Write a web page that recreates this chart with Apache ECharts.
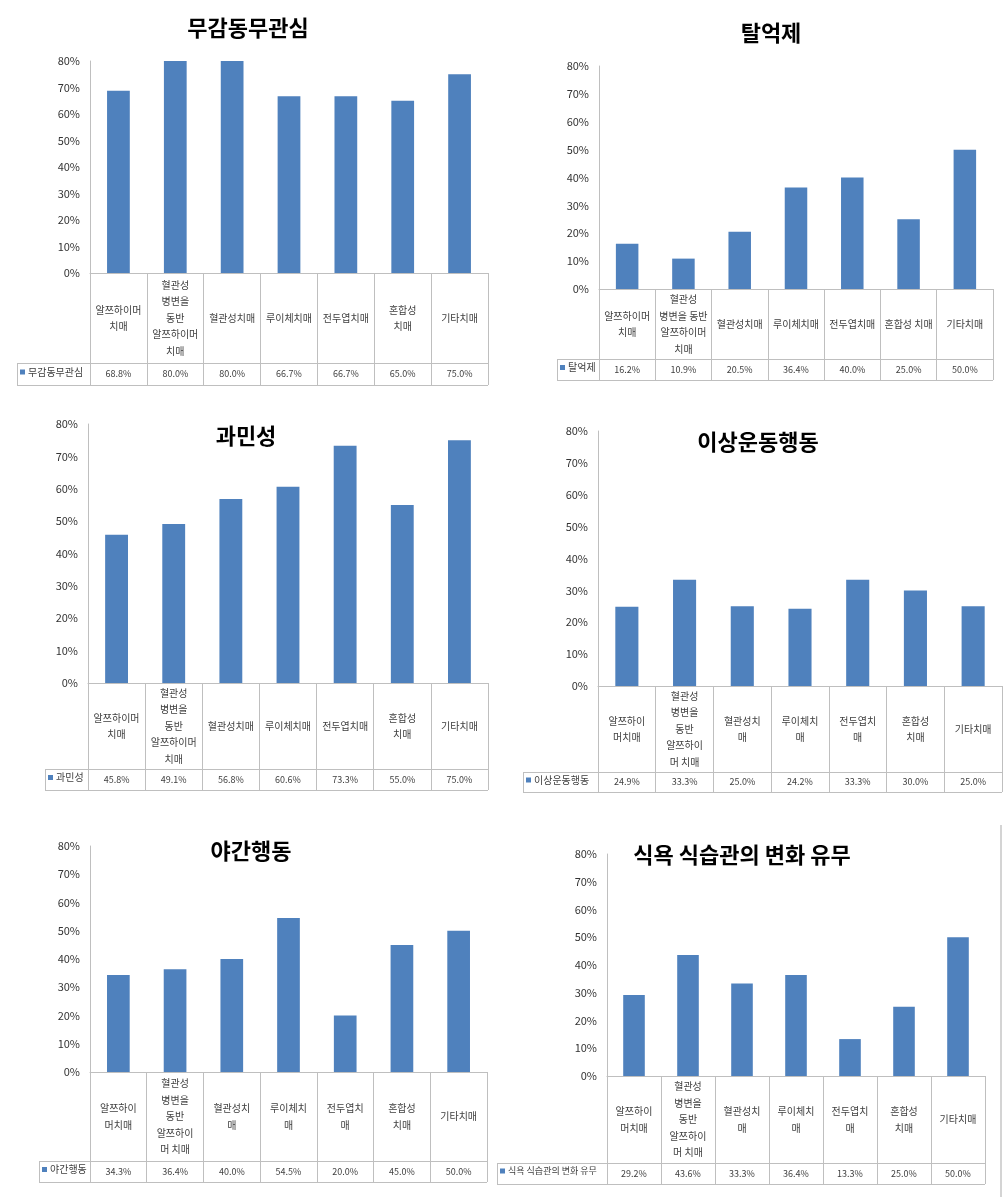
<!DOCTYPE html>
<html>
<head>
<meta charset="utf-8">
<script src="https://cdn.jsdelivr.net/npm/echarts@6/dist/echarts.min.js"></script>
<style>
html,body{margin:0;padding:0;background:#fff;}
#main{width:1008px;height:1197px;}
</style>
</head>
<body>
<div id="main"></div>
<script>
// ---- data ----
const categoriesWide = ['알쯔하이머\n치매', '혈관성\n병변을\n동반\n알쯔하이머\n치매', '혈관성치매', '루이체치매', '전두엽치매', '혼합성\n치매', '기타치매'];
const categoriesWide2 = ['알쯔하이머\n치매', '혈관성\n병변을 동반\n알쯔하이머\n치매', '혈관성치매', '루이체치매', '전두엽치매', '혼합성 치매', '기타치매'];
const categoriesNarrow = ['알쯔하이\n머치매', '혈관성\n병변을\n동반\n알쯔하이\n머 치매', '혈관성치\n매', '루이체치\n매', '전두엽치\n매', '혼합성\n치매', '기타치매'];

const seriesNames = ['무감동무관심', '탈억제', '과민성', '이상운동행동', '야간행동', '식욕 식습관의 변화 유무'];

const apathy = [68.8, 80.0, 80.0, 66.7, 66.7, 65.0, 75.0];
const disinhibition = [16.2, 10.9, 20.5, 36.4, 40.0, 25.0, 50.0];
const irritability = [45.8, 49.1, 56.8, 60.6, 73.3, 55.0, 75.0];
const aberrantMotor = [24.9, 33.3, 25.0, 24.2, 33.3, 30.0, 25.0];
const nightBehavior = [34.3, 36.4, 40.0, 54.5, 20.0, 45.0, 50.0];
const appetite = [29.2, 43.6, 33.3, 36.4, 13.3, 25.0, 50.0];

const yMin = 0, yMax = 80, yStep = 10;

// ---- layout (pixel positions of each panel) ----
const panels = [
  {cats: categoriesWide,   vals: apathy,        L: 90,  R: 488,  T: 61,  B: 273,  D: 363,  E: 385,  legL: 17,  tx: 248, ty: 28,  lf: 10},
  {cats: categoriesWide2,  vals: disinhibition, L: 599, R: 993,  T: 66,  B: 289,  D: 359,  E: 380,  legL: 557, tx: 771, ty: 33,  lf: 10},
  {cats: categoriesWide,   vals: irritability,  L: 88,  R: 488,  T: 424, B: 683,  D: 769,  E: 790,  legL: 45,  tx: 246, ty: 436, lf: 10},
  {cats: categoriesNarrow, vals: aberrantMotor, L: 598, R: 1002, T: 431, B: 686,  D: 772,  E: 792,  legL: 523, tx: 758, ty: 442, lf: 10},
  {cats: categoriesNarrow, vals: nightBehavior, L: 90,  R: 487,  T: 846, B: 1072, D: 1161, E: 1182, legL: 39,  tx: 251, ty: 851, lf: 10},
  {cats: categoriesNarrow, vals: appetite,      L: 607, R: 985,  T: 854, B: 1076, D: 1163, E: 1184, legL: 497, tx: 742, ty: 855, lf: 9}
];

const FONT = "'Noto Sans CJK KR', 'Noto Sans', sans-serif";
const BAR = '#4F81BD';
const LINE = '#bfbfbf';
const TXT = '#404040';

const grid = [], xAxis = [], yAxis = [], series = [], legend = [], graphic = [];

panels.forEach((p, i) => {
  grid.push({left: p.L, top: p.T, width: p.R - p.L, height: p.B - p.T, containLabel: false});
  xAxis.push({
    gridIndex: i, type: 'category', data: p.cats, position: 'bottom',
    axisLine: {show: true, lineStyle: {color: LINE, width: 1}},
    axisTick: {show: true, length: p.E - p.B, lineStyle: {color: LINE, width: 1}},
    axisLabel: {interval: 0, fontSize: 10, lineHeight: 16.5, color: TXT, fontFamily: FONT,
                verticalAlign: 'middle', margin: (p.D - p.B) / 2}
  });
  xAxis.push({
    gridIndex: i, type: 'category', data: p.vals.map(v => v.toFixed(1) + '%'), position: 'bottom',
    offset: p.D - p.B,
    axisLine: {show: true, lineStyle: {color: LINE, width: 1}},
    axisTick: {show: false},
    axisLabel: {interval: 0, fontSize: 9, color: TXT, fontFamily: FONT,
                verticalAlign: 'middle', margin: (p.E - p.D) / 2}
  });
  yAxis.push({
    gridIndex: i, type: 'value', min: yMin, max: yMax, interval: yStep,
    axisLine: {show: true, lineStyle: {color: LINE, width: 1}},
    axisTick: {show: false},
    splitLine: {show: false},
    axisLabel: {formatter: '{value}%', fontSize: 11, color: '#333', fontFamily: FONT, margin: 10}
  });
  series.push({
    name: seriesNames[i], type: 'bar', xAxisIndex: 2 * i, yAxisIndex: i,
    data: p.vals, barWidth: '40%', itemStyle: {color: BAR}
  });
  legend.push({
    data: [seriesNames[i]], left: p.legL + 3, top: p.D + (p.E - p.D) / 2 - 7,
    itemWidth: 5, itemHeight: 5, icon: 'rect', padding: 0, itemGap: 0,
    textStyle: {fontSize: p.lf, color: TXT, fontFamily: FONT, padding: [0, 0, 0, -2]},
    selectedMode: false
  });
  // title
  graphic.push({type: 'text', x: p.tx, y: p.ty, silent: true,
    style: {text: seriesNames[i], fill: '#000', font: "bold 22px " + FONT, textAlign: 'center', textVerticalAlign: 'middle'}});
  // table lines around the legend cell
  const ls = {stroke: LINE, lineWidth: 1};
  graphic.push({type: 'line', shape: {x1: p.legL, y1: p.D + 0.5, x2: p.L, y2: p.D + 0.5}, style: ls, silent: true});
  graphic.push({type: 'line', shape: {x1: p.legL, y1: p.E + 0.5, x2: p.R, y2: p.E + 0.5}, style: ls, silent: true});
  graphic.push({type: 'line', shape: {x1: p.legL + 0.5, y1: p.D, x2: p.legL + 0.5, y2: p.E}, style: ls, silent: true});
});

// faint frame edge at the right of the last panel
graphic.push({type: 'line', shape: {x1: 1001, y1: 825, x2: 1001, y2: 1197}, style: {stroke: '#d4d4d4', lineWidth: 2}, silent: true});

const chart = echarts.init(document.getElementById('main'), null, {renderer: 'canvas'});
chart.setOption({
  animation: false,
  backgroundColor: '#fff',
  textStyle: {fontFamily: FONT},
  grid, xAxis, yAxis, series, legend, graphic
});
</script>
</body>
</html>
